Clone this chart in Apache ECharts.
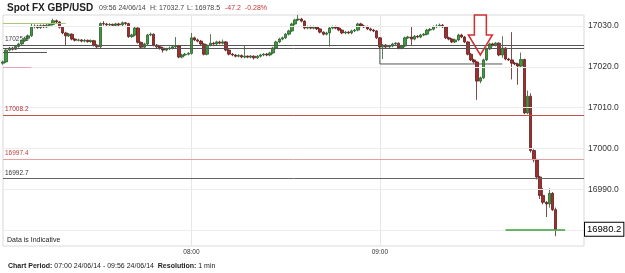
<!DOCTYPE html>
<html>
<head>
    <meta charset="UTF-8">
    <title></title>
    <script src="https://cdn.jsdelivr.net/npm/echarts@6/dist/echarts.min.js"></script>
    <style>
        html, body { margin: 0; padding: 0; background: #fff; }
        #chart { width: 625px; height: 273px; }
    </style>
</head>
<body>
<div id="chart"></div>
<script>
    // 1 min bars 07:00 - 09:56, [open, close, low, high]
    var candles = [
        [17020.9, 17021.2, 17020.5, 17021.5], [17021.2, 17024.1, 17021.0, 17024.4], [17024.1, 17024.6, 17023.8, 17024.9],
        [17024.6, 17024.3, 17024.0, 17024.9], [17024.3, 17025.0, 17024.1, 17025.3], [17025.0, 17025.6, 17024.7, 17025.9],
        [17025.6, 17026.4, 17025.3, 17026.7], [17026.4, 17027.0, 17026.1, 17027.4], [17027.0, 17027.6, 17026.7, 17027.9],
        [17027.6, 17029.8, 17027.3, 17030.5], [17029.8, 17030.0, 17029.4, 17030.4], [17030.0, 17029.6, 17029.3, 17030.3],
        [17029.6, 17030.1, 17029.3, 17030.4], [17030.1, 17029.8, 17029.5, 17030.4], [17029.8, 17030.2, 17029.5, 17030.5],
        [17030.2, 17030.4, 17029.9, 17030.7], [17030.4, 17031.3, 17030.1, 17031.8], [17031.3, 17031.0, 17030.6, 17031.6],
        [17031.0, 17029.7, 17029.4, 17031.2], [17029.7, 17028.3, 17028.0, 17029.9], [17028.3, 17027.6, 17025.2, 17028.6],
        [17027.6, 17028.0, 17027.3, 17028.3], [17028.0, 17026.8, 17026.5, 17028.2], [17026.8, 17026.5, 17026.2, 17027.0],
        [17026.5, 17026.6, 17026.2, 17026.9], [17026.6, 17026.3, 17026.0, 17026.8], [17026.3, 17026.5, 17026.0, 17026.8],
        [17026.5, 17026.2, 17025.9, 17026.7], [17026.2, 17026.4, 17025.9, 17026.7], [17026.4, 17025.3, 17025.0, 17026.6],
        [17025.3, 17024.9, 17024.5, 17025.6], [17024.9, 17030.6, 17024.6, 17030.9], [17030.6, 17030.5, 17030.1, 17031.2],
        [17030.5, 17030.3, 17030.0, 17030.8], [17030.3, 17030.4, 17030.0, 17030.7], [17030.4, 17030.2, 17029.9, 17030.6],
        [17030.2, 17030.5, 17029.9, 17030.8], [17030.5, 17030.3, 17030.0, 17030.8], [17030.3, 17030.8, 17030.0, 17031.1],
        [17030.8, 17030.6, 17030.2, 17031.0], [17030.6, 17027.4, 17027.1, 17030.8], [17027.4, 17027.8, 17027.1, 17028.1],
        [17027.8, 17029.5, 17027.5, 17029.8], [17029.5, 17026.0, 17025.7, 17029.7], [17026.0, 17024.8, 17024.5, 17026.2],
        [17024.8, 17025.6, 17024.5, 17025.9], [17025.6, 17027.8, 17025.3, 17028.1], [17027.8, 17028.0, 17027.5, 17028.4],
        [17028.0, 17025.3, 17025.0, 17028.2], [17025.3, 17024.9, 17024.6, 17025.6], [17024.9, 17024.6, 17024.2, 17025.2],
        [17024.6, 17024.1, 17023.5, 17024.9], [17024.1, 17024.4, 17023.8, 17024.7], [17024.4, 17024.6, 17024.1, 17025.0],
        [17024.6, 17024.9, 17024.3, 17025.2], [17024.9, 17025.1, 17024.6, 17027.3], [17025.1, 17022.4, 17022.1, 17025.4],
        [17022.4, 17022.9, 17022.1, 17023.2], [17022.9, 17023.1, 17022.6, 17023.4], [17023.1, 17023.3, 17022.8, 17023.6],
        [17023.3, 17027.1, 17023.0, 17028.3], [17027.1, 17026.6, 17026.3, 17027.4], [17026.6, 17026.3, 17026.0, 17026.9],
        [17026.3, 17025.6, 17025.3, 17026.6], [17025.6, 17023.1, 17022.8, 17025.8], [17023.1, 17025.3, 17022.8, 17025.6],
        [17025.3, 17025.8, 17025.0, 17028.0], [17025.8, 17025.6, 17025.3, 17026.1], [17025.6, 17026.1, 17025.3, 17026.4],
        [17026.1, 17025.8, 17025.5, 17026.4], [17025.8, 17026.1, 17025.5, 17026.7], [17026.1, 17024.1, 17023.8, 17026.3],
        [17024.1, 17023.1, 17022.8, 17024.3], [17023.1, 17022.9, 17022.6, 17023.4], [17022.9, 17022.6, 17022.3, 17023.1],
        [17022.6, 17022.8, 17022.3, 17023.1], [17022.8, 17022.4, 17022.1, 17023.0], [17022.4, 17022.6, 17022.1, 17025.3],
        [17022.6, 17022.4, 17022.1, 17022.8], [17022.4, 17022.6, 17022.1, 17022.9], [17022.6, 17022.2, 17021.8, 17022.8],
        [17022.2, 17022.6, 17021.9, 17022.9], [17022.6, 17022.9, 17022.3, 17023.2], [17022.9, 17023.1, 17022.6, 17023.4],
        [17023.1, 17022.9, 17022.6, 17023.4], [17022.9, 17023.4, 17022.6, 17023.7], [17023.4, 17024.6, 17023.1, 17024.9],
        [17024.6, 17026.1, 17024.3, 17026.4], [17026.1, 17026.8, 17025.8, 17027.1], [17026.8, 17027.1, 17026.5, 17027.4],
        [17027.1, 17028.0, 17026.8, 17028.3], [17028.0, 17028.8, 17027.7, 17029.1], [17028.8, 17030.5, 17028.5, 17030.8],
        [17030.5, 17031.5, 17030.2, 17031.8], [17031.5, 17031.7, 17031.2, 17032.7], [17031.7, 17031.2, 17030.9, 17032.0],
        [17031.2, 17029.5, 17029.2, 17031.4], [17029.5, 17029.8, 17029.2, 17030.1], [17029.8, 17029.5, 17029.2, 17030.1],
        [17029.5, 17029.8, 17029.2, 17030.1], [17029.8, 17029.3, 17029.0, 17030.0], [17029.3, 17028.5, 17028.2, 17029.5],
        [17028.5, 17028.0, 17027.7, 17028.7], [17028.0, 17028.3, 17027.7, 17028.6], [17028.3, 17029.5, 17025.0, 17029.8],
        [17029.5, 17029.8, 17029.2, 17030.1], [17029.8, 17029.5, 17029.2, 17030.1], [17029.5, 17029.0, 17028.7, 17029.8],
        [17029.0, 17028.3, 17028.0, 17029.2], [17028.3, 17028.5, 17028.0, 17028.8], [17028.5, 17028.3, 17028.0, 17028.8],
        [17028.3, 17028.8, 17028.0, 17029.1], [17028.8, 17029.0, 17028.5, 17029.3], [17029.0, 17030.5, 17028.7, 17030.8],
        [17030.5, 17030.0, 17029.7, 17030.8], [17030.0, 17029.8, 17029.5, 17030.3], [17029.8, 17029.3, 17029.0, 17030.1],
        [17029.3, 17029.0, 17028.7, 17029.6], [17029.0, 17028.8, 17028.5, 17029.3], [17028.8, 17027.1, 17026.8, 17029.0],
        [17027.1, 17024.9, 17024.6, 17027.3], [17024.9, 17025.3, 17021.9, 17025.6], [17025.3, 17024.9, 17024.6, 17025.6],
        [17024.9, 17025.1, 17024.6, 17025.4], [17025.1, 17025.6, 17024.8, 17025.9], [17025.6, 17025.8, 17025.3, 17026.1],
        [17025.8, 17024.6, 17024.3, 17026.0], [17024.6, 17025.1, 17024.3, 17025.4], [17025.1, 17027.1, 17024.8, 17027.4],
        [17027.1, 17027.3, 17026.8, 17027.6], [17027.3, 17026.8, 17025.1, 17029.8], [17026.8, 17027.5, 17026.5, 17027.8],
        [17027.5, 17027.3, 17027.0, 17027.8], [17027.3, 17027.8, 17027.0, 17028.1], [17027.8, 17028.0, 17027.5, 17028.3],
        [17028.0, 17029.0, 17027.7, 17029.3], [17029.0, 17029.2, 17028.7, 17029.5], [17029.2, 17029.8, 17028.9, 17030.1],
        [17029.8, 17030.0, 17029.5, 17030.4], [17030.0, 17030.2, 17029.7, 17030.6], [17030.2, 17029.8, 17029.5, 17030.5],
        [17029.8, 17027.1, 17026.8, 17030.0], [17027.1, 17026.8, 17026.5, 17027.4], [17026.8, 17026.1, 17025.8, 17027.0],
        [17026.1, 17026.6, 17025.8, 17026.9], [17026.6, 17027.8, 17026.3, 17028.1], [17027.8, 17027.3, 17027.0, 17028.1],
        [17027.3, 17026.1, 17025.8, 17027.6], [17026.1, 17023.1, 17022.8, 17026.3], [17023.1, 17021.7, 17021.4, 17023.4],
        [17021.7, 17021.2, 17020.8, 17022.0], [17021.2, 17016.5, 17011.9, 17021.4], [17016.5, 17017.3, 17016.0, 17017.6],
        [17017.3, 17021.7, 17017.0, 17022.0], [17021.7, 17024.4, 17021.4, 17024.7], [17024.4, 17025.6, 17024.1, 17025.9],
        [17025.6, 17025.3, 17025.0, 17025.9], [17025.3, 17025.8, 17025.0, 17026.1], [17025.8, 17022.9, 17022.6, 17026.0],
        [17022.9, 17024.6, 17022.2, 17027.5], [17024.6, 17021.9, 17021.6, 17024.8], [17021.9, 17021.7, 17021.4, 17022.2],
        [17021.7, 17020.9, 17016.9, 17028.5], [17020.9, 17020.7, 17020.4, 17021.2], [17020.7, 17020.2, 17015.6, 17021.0],
        [17020.2, 17021.8, 17019.9, 17023.5], [17021.8, 17008.7, 17008.4, 17022.0], [17008.7, 17012.8, 17008.4, 17014.2],
        [17012.8, 16999.5, 16999.0, 17013.5], [16999.5, 16997.2, 16996.6, 16999.8], [16997.2, 16993.0, 16992.4, 16997.5],
        [16993.0, 16988.5, 16987.6, 16993.3], [16988.5, 16986.8, 16986.3, 16990.3], [16986.8, 16986.4, 16983.2, 16987.1],
        [16986.4, 16989.0, 16985.5, 16990.2], [16989.0, 16985.0, 16984.7, 16989.3], [16985.0, 16980.2, 16978.5, 16985.5]
    ];

    var yTicks = [16980, 16990, 17000, 17010, 17020, 17030];
    var xLabelTimes = ['08:00', '09:00'];

    // full width levels
    var levels = [17025.3, 17024.6, 17008.2, 16997.4, 16992.7];
    var levelLabels = ['17025.3', '', '17008.2', '16997.4', '16992.7'];
    // short levels: [from bar, to bar, value]
    var segments = [[0, 20, 17030.7], [0, 14, 17023.6], [0, 9, 17020.0], [160, 179, 16980.2]];
    // box drawn from 09:00
    var boxPath = [[120, 17025.3], [120, 17020.7], [159, 17020.7]];
    var lastPrice = 16980.2;
    var arrowTip = [152, 17022.9];

    var font = '"Liberation Sans", Arial, sans-serif';

    var times = [];
    for (var m = 7 * 60; m <= 10 * 60 + 5; m++) {
        var h = Math.floor(m / 60), mm = m % 60;
        times.push((h < 10 ? '0' : '') + h + ':' + (mm < 10 ? '0' : '') + mm);
    }

    var levelColors = ['#555', '#555', '#c0504d', '#e3a1a1', '#666'];
    var levelTextColors = ['#444', '#444', '#b03030', '#c04040', '#333'];
    var segColors = ['#a8c878', '#555', '#eaa6ae', '#3aa03a'];

    var gridMarks = yTicks.map(function (v) {
        return {
            yAxis: v,
            lineStyle: {color: '#ececec', width: 1, type: 'solid'},
            label: {show: v !== 16980, position: 'end', formatter: v.toFixed(1), color: '#333', fontSize: 8.5, fontFamily: font, distance: 4}
        };
    });

    var levelMarks = levels.map(function (v, i) {
        return {
            yAxis: v,
            lineStyle: {color: levelColors[i], width: 1, type: 'solid'},
            label: {show: levelLabels[i] !== '', position: 'insideStartTop', formatter: levelLabels[i], color: levelTextColors[i], fontSize: 6.5, fontFamily: font, distance: 2}
        };
    });

    var segMarks = segments.map(function (s, i) {
        return [
            {coord: [times[s[0]], s[2]], lineStyle: {color: segColors[i], width: i === 3 ? 1.5 : 1, type: 'solid'}, label: {show: false}},
            {coord: [times[s[1]], s[2]]}
        ];
    });

    var myChart = echarts.init(document.getElementById('chart'));
    myChart.setOption({
        animation: false,
        backgroundColor: '#fff',
        grid: {left: 3, right: 41, top: 15, bottom: 27, show: true, borderColor: '#d9d9d9', borderWidth: 1},
        xAxis: {
            type: 'category',
            data: times,
            boundaryGap: false,
            axisLine: {show: false},
            axisTick: {show: false},
            axisLabel: {
                interval: function (idx, val) { return xLabelTimes.indexOf(val) >= 0; },
                color: '#333', fontSize: 6.5, fontFamily: font, margin: 3
            },
            splitLine: {
                show: true,
                interval: function (idx, val) { return xLabelTimes.indexOf(val) >= 0; },
                lineStyle: {color: '#e6e6e6'}
            }
        },
        yAxis: {
            type: 'value',
            min: 16976.1,
            max: 17032.7,
            axisLine: {show: false},
            axisTick: {show: false},
            axisLabel: {show: false},
            splitLine: {show: false}
        },
        series: [{
            name: 'levels',
            type: 'line',
            data: [],
            z: 1,
            markLine: {
                silent: true,
                symbol: ['none', 'none'],
                animation: false,
                data: gridMarks.concat(levelMarks).concat(segMarks)
            }
        }, {
            name: 'box',
            type: 'line',
            data: boxPath,
            z: 1,
            symbol: 'none',
            silent: true,
            lineStyle: {color: '#555', width: 1}
        }, {
            name: 'GBP/USD',
            type: 'candlestick',
            data: candles,
            z: 3,
            barWidth: 3,
            itemStyle: {
                color: '#3d9a3d',
                color0: '#a32c2c',
                borderColor: '#2b5e2b',
                borderColor0: '#5e1e1e',
                borderWidth: 0.8
            }
        }, {
            name: 'last',
            type: 'line',
            data: [],
            z: 10,
            markLine: {
                silent: true,
                symbol: ['none', 'none'],
                animation: false,
                data: [{
                    yAxis: lastPrice,
                    lineStyle: {color: 'rgba(0,0,0,0)', width: 0},
                    label: {
                        show: true,
                        position: 'end', formatter: lastPrice.toFixed(1), distance: 1,
                        color: '#000', fontSize: 9.5, fontFamily: font,
                        backgroundColor: '#fff', borderColor: '#000', borderWidth: 1, padding: [2, 2, 1, 2]
                    }
                }]
            }
        }]
    });

    var tip = myChart.convertToPixel({gridIndex: 0}, [times[arrowTip[0]], arrowTip[1]]);
    var tx = tip[0], ty = tip[1];
    var small = {fontSize: 7, fill: '#444', fontFamily: font};
    myChart.setOption({
        graphic: [{
            type: 'polygon',
            z: 20,
            shape: {points: [
                [tx - 6, ty - 40], [tx + 6, ty - 40], [tx + 6, ty - 20], [tx + 12, ty - 20],
                [tx, ty], [tx - 12, ty - 20], [tx - 6, ty - 20]
            ]},
            style: {fill: 'none', stroke: '#d03030', lineWidth: 1.5}
        }, {
            type: 'text', left: 7, top: 3,
            style: {text: 'Spot FX GBP/USD', fontSize: 10, fontWeight: 'bold', fill: '#222', fontFamily: font}
        }, {
            type: 'text', left: 99, top: 5,
            style: Object.assign({text: '09:56 24/06/14'}, small)
        }, {
            type: 'text', left: 150, top: 5,
            style: Object.assign({text: 'H: 17032.7'}, small)
        }, {
            type: 'text', left: 187, top: 5,
            style: Object.assign({text: 'L: 16978.5'}, small)
        }, {
            type: 'text', left: 225, top: 5,
            style: Object.assign({}, small, {text: '-47.2  -0.28%', fill: '#cc3333'})
        }, {
            type: 'text', left: 7, top: 237,
            style: {text: 'Data is Indicative', fontSize: 7, fill: '#222', fontFamily: font}
        }, {
            type: 'text', left: 8, top: 263,
            style: {
                text: '{b|Chart Period:} 07:00 24/06/14 - 09:56 24/06/14  {b|Resolution:} 1 min',
                fontSize: 7, fill: '#222', fontFamily: font,
                rich: {b: {fontSize: 7, fontWeight: 'bold', fill: '#222', fontFamily: font}}
            }
        }]
    });
</script>
</body>
</html>
